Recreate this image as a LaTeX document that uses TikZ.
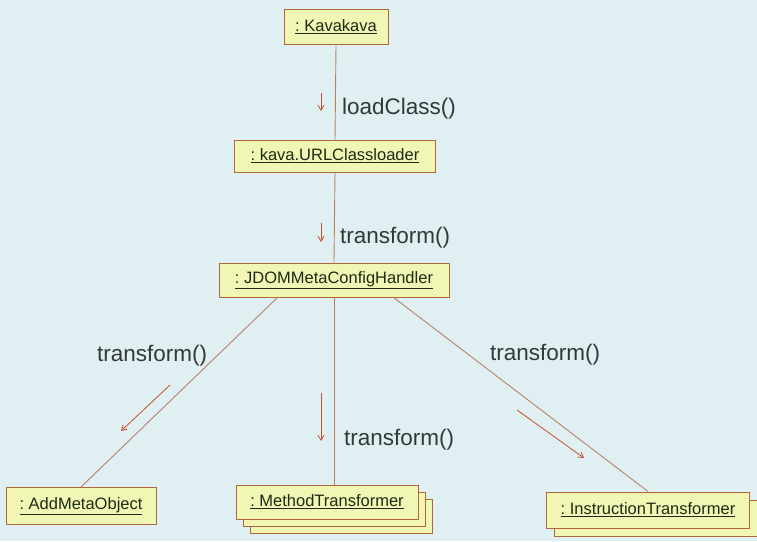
\documentclass[tikz,border=0pt]{standalone}
\usepackage{fontspec}
\setmainfont{Liberation Sans}
\usetikzlibrary{arrows.meta}
\definecolor{bg}{HTML}{E0F0F2}
\definecolor{boxfill}{HTML}{F2F6B4}
\definecolor{boxline}{HTML}{B0653A}
\definecolor{linkcol}{HTML}{B88068}
\definecolor{msgcol}{HTML}{C0502E}
\definecolor{labcol}{HTML}{333838}
\definecolor{objtext}{HTML}{1E2A14}
\tikzset{
  obj/.style={draw=boxline, fill=boxfill, line width=1pt, inner sep=0pt,
    font=\fontsize{16.5}{18}\selectfont, text=objtext},
  objback/.style={draw=boxline, fill=boxfill, line width=1pt, inner sep=0pt},
  link/.style={draw=linkcol, line width=0.9pt},
  msg/.style={draw=msgcol, line width=0.8pt, -{Straight Barb[length=5pt,width=6pt]}},
  lab/.style={font=\fontsize{22.5}{26}\selectfont, text=labcol, anchor=west, inner sep=0pt}
}
\newcommand{\objname}[1]{\underline{:~#1}}
\begin{document}
\begin{tikzpicture}[x=1pt,y=-1pt]
  \fill[bg] (0,0) rectangle (757,541);
  \useasboundingbox (0,0) rectangle (757,541);

  % stacked copies behind the multi-object boxes
  \node[objback, minimum width=182pt, minimum height=34pt] (mt3) at (341,516) {};
  \node[objback, minimum width=182pt, minimum height=34pt] (mt2) at (334,509) {};
  \node[objback, minimum width=203pt, minimum height=36pt] (it2) at (656,518) {};

  % objects
  \node[obj, minimum width=104pt, minimum height=35pt] (kk) at (336,27) {\objname{Kavakava}};
  \node[obj, minimum width=201pt, minimum height=32pt] (ucl) at (335,156) {\objname{kava.URLClassloader}};
  \node[obj, minimum width=230pt, minimum height=34pt] (jdom) at (334,280) {\objname{JDOMMetaConfigHandler}};
  \node[obj, minimum width=150pt, minimum height=37pt] (amo) at (81,506) {\objname{AddMetaObject}};
  \node[obj, minimum width=182pt, minimum height=34pt] (mt) at (327,502) {\objname{MethodTransformer}};
  \node[obj, minimum width=203pt, minimum height=36pt] (it) at (648,510) {\objname{InstructionTransformer}};

  % links
  \draw[link] (kk.south) -- (ucl.north);
  \draw[link] (ucl.south) -- (jdom.north);
  \draw[link] (jdom.south) -- (jdom.south |- mt.north);
  \draw[link] (278,297) -- (amo.north);
  \draw[link] (393,297) -- (it.north);

  % message arrows
  \coordinate (m1a) at (321,93);  \coordinate (m1b) at (321,111);
  \coordinate (m2a) at (321,223); \coordinate (m2b) at (321,242);
  \coordinate (m3a) at (321,393); \coordinate (m3b) at (321,441);
  \coordinate (m4a) at (170,385); \coordinate (m4b) at (121,431);
  \coordinate (m5a) at (517,410); \coordinate (m5b) at (584,458);
  \draw[msg] (m1a) -- (m1b);
  \draw[msg] (m2a) -- (m2b);
  \draw[msg] (m3a) -- (m3b);
  \draw[msg] (m4a) -- (m4b);
  \draw[msg] (m5a) -- (m5b);

  % message labels
  \node[lab] (l1) at (342,109) {loadClass()};
  \node[lab] (l2) at (340,238) {transform()};
  \node[lab] (l3) at (344,440) {transform()};
  \node[lab] (l4) at (97,356) {transform()};
  \node[lab] (l5) at (490,355) {transform()};
\end{tikzpicture}
\end{document}
